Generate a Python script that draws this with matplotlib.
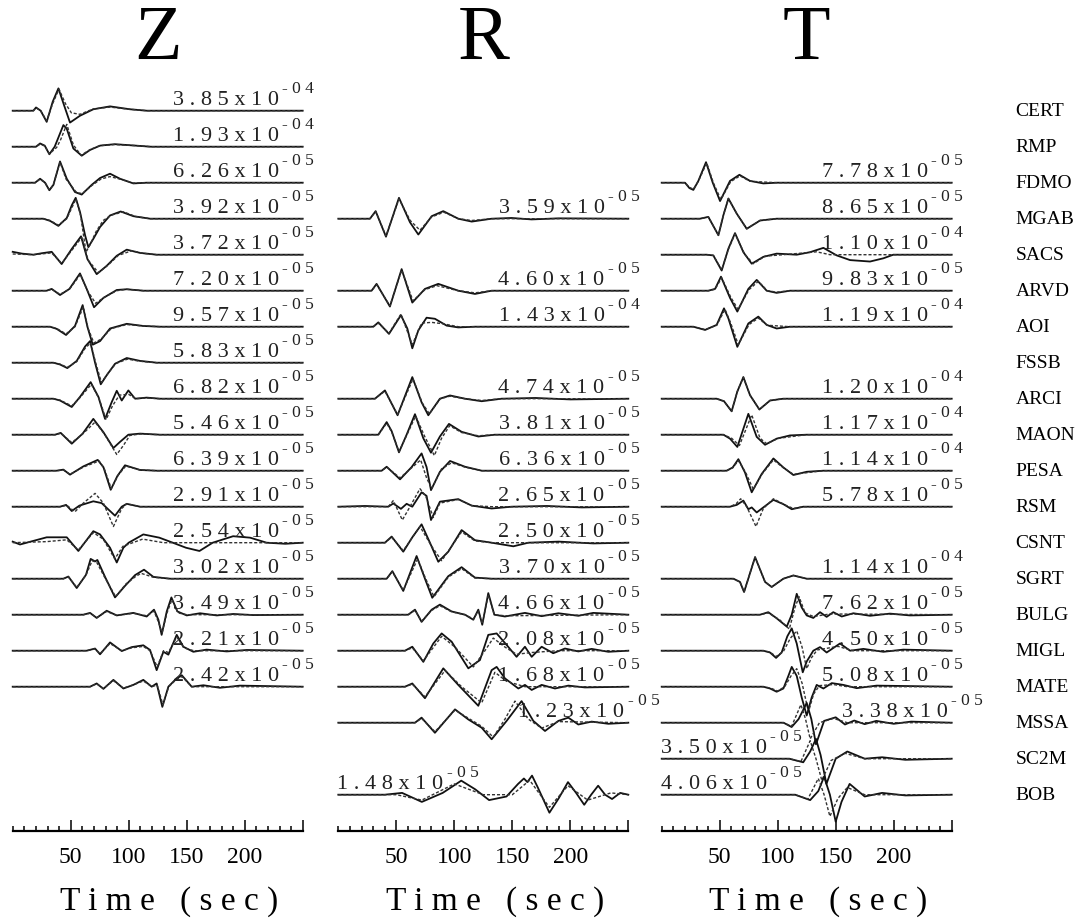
import matplotlib
matplotlib.use('Agg')
import matplotlib.pyplot as plt
from matplotlib.ticker import FixedLocator, MultipleLocator

plt.rcParams['font.family'] = ['Liberation Serif', 'DejaVu Serif']

# station order (one row per station, top to bottom)
stations = ['CERT', 'RMP', 'FDMO', 'MGAB', 'SACS', 'ARVD', 'AOI', 'FSSB', 'ARCI', 'MAON',
            'PESA', 'RSM', 'CSNT', 'SGRT', 'BULG', 'MIGL', 'MATE', 'MSSA', 'SC2M', 'BOB']

# peak amplitudes written next to each trace
z_sta = stations[:17]
z_mant = ['3.85', '1.93', '6.26', '3.92', '3.72', '7.20', '9.57', '5.83', '6.82',
          '5.46', '6.39', '2.91', '2.54', '3.02', '3.49', '2.21', '2.42']
z_expo = ['-04', '-04'] + ['-05'] * 15

r_sta = ['MGAB', 'ARVD', 'AOI', 'ARCI', 'MAON', 'PESA', 'RSM', 'CSNT', 'SGRT',
         'BULG', 'MIGL', 'MATE', 'MSSA', 'BOB']
r_mant = ['3.59', '4.60', '1.43', '4.74', '3.81', '6.36', '2.65', '2.50', '3.70',
          '4.66', '2.08', '1.68', '1.23', '1.48']
r_expo = ['-05', '-05', '-04'] + ['-05'] * 11

t_sta = ['FDMO', 'MGAB', 'SACS', 'ARVD', 'AOI', 'ARCI', 'MAON', 'PESA', 'RSM',
         'SGRT', 'BULG', 'MIGL', 'MATE', 'MSSA', 'SC2M', 'BOB']
t_mant = ['7.78', '8.65', '1.10', '9.83', '1.19', '1.20', '1.17', '1.14', '5.78',
          '1.14', '7.62', '4.50', '5.08', '3.38', '3.50', '4.06']
t_expo = ['-05', '-05', '-04', '-05', '-04', '-04', '-04', '-04', '-05',
          '-04', '-05', '-05', '-05', '-05', '-05', '-05']

# waveforms: (time s, normalised amplitude) ; obs = solid, syn = dashed
z_obs = {
    'CERT': [(0,0),(17.8,0),(20.1,0.09),(24.1,0.0),(29.3,-0.31),(34.5,0.25),(39.4,0.62),(44.3,0.15),(49.4,-0.33),(58,-0.14),(69.5,0.04),(83.9,0.12),(101,0.04),(115.5,0),(250,0)],
    'RMP': [(0,0),(20.1,0),(23.6,0.09),(27.6,0.03),(31.6,-0.21),(36.2,0.0),(43.7,0.6),(46.6,0.5),(52.3,-0.05),(59.5,-0.25),(66.7,-0.09),(75.3,0.03),(88,0.07),(106,0.03),(119,0),(250,0)],
    'FDMO': [(0,0),(19.3,0),(23.6,0.11),(27.9,0.0),(31.6,-0.21),(35.1,-0.06),(40.8,0.59),(46.6,0.11),(53.7,-0.26),(59.5,-0.33),(68.1,-0.06),(75.3,0.13),(83.9,0.25),(92.5,0.11),(104,-0.02),(115.5,0),(250,0)],
    'MGAB': [(0,0),(26.4,0),(32.2,-0.06),(39.4,-0.2),(46.6,0.02),(50.9,0.37),(54.3,0.58),(58,0.19),(62.4,-0.46),(65.2,-0.79),(69.5,-0.56),(75.3,-0.23),(83.9,0.09),(93.1,0.2),(104,0.07),(118.4,0),(250,0)],
    'SACS': [(0,0.08),(8,0.03),(17.8,0),(25,0.04),(33.6,0.08),(42.2,-0.26),(50.9,0.16),(58.9,0.51),(64.4,-0.12),(72.4,-0.54),(81,-0.31),(89.7,-0.03),(98.3,0.14),(109.8,0.05),(124.1,0),(250,0)],
    'ARVD': [(0,0),(29.3,0),(33.6,0.05),(40.8,-0.12),(48.9,0.05),(58,0.48),(63.8,0.05),(70.1,-0.46),(78.2,-0.2),(89.7,0.02),(98.3,0.04),(112.6,0),(250,0)],
    'AOI': [(0,0),(32.2,0),(37.9,-0.06),(46,-0.23),(53.7,0.02),(60.3,0.6),(64.4,0.0),(69,-0.5),(75.3,-0.4),(83.9,-0.05),(98.3,0.08),(112.6,0.02),(127,0),(250,0)],
    'FSSB': [(0,0),(35.1,0),(40.8,-0.05),(47.1,-0.15),(55.2,0.05),(62.4,0.45),(66.7,0.6),(71,0.0),(75.9,-0.6),(81,-0.35),(88.2,-0.03),(98.3,0.13),(109.8,0.05),(124.1,0),(250,0)],
    'ARCI': [(0,0),(35.1,0),(40.8,-0.05),(50.9,-0.23),(58,0.05),(67.2,0.46),(73.9,0.05),(79.6,-0.56),(85.3,-0.1),(89.7,0.22),(94,-0.05),(99.7,0.23),(105.5,0.0),(115.5,0.03),(127,0),(250,0)],
    'MAON': [(0,0),(36.5,0),(41.4,0.05),(50.9,-0.25),(60.3,0.03),(69.5,0.44),(78.2,0.07),(86.8,-0.37),(92.5,-0.2),(99.7,0.0),(109.8,0.03),(127,0),(250,0)],
    'PESA': [(0,0),(37.9,0),(43.7,0.03),(49.4,-0.11),(60.9,0.12),(73.3,0.3),(78.2,0.1),(84.5,-0.53),(90.2,-0.15),(96.8,0.15),(109.8,0.02),(124.1,0),(250,0)],
    'RSM': [(0,0),(40.8,0),(46,0.05),(50.9,-0.12),(57.5,0.03),(69.5,0.15),(76.7,0.1),(81.6,-0.05),(88.2,-0.25),(94,0.0),(98.3,0.08),(109.8,0),(250,0)],
    'CSNT': [(0,0.03),(6.3,-0.05),(17.8,0.05),(29.3,0.15),(46.6,0.15),(56.6,-0.23),(69.5,0.32),(75.3,0.23),(83.9,-0.14),(89.7,-0.55),(95.4,-0.14),(100,0.0),(112.6,0.23),(126.4,0.14),(138,0.0),(149.4,-0.14),(161,-0.23),(172.4,0.0),(190,0.18),(204.6,0.14),(218.9,0.0),(235,-0.03),(250,0)],
    'SGRT': [(0,0),(43.7,0),(48,0.06),(55.2,-0.26),(63.2,0.11),(67.2,0.55),(71,0.48),(73,0.52),(79.6,0.05),(88.2,-0.52),(96.8,-0.2),(105.5,0.1),(113.2,0.25),(121.3,0.05),(135.6,0),(250,0)],
    'BULG': [(0,0),(60.9,0),(66.7,0.05),(72.4,-0.09),(81,0.11),(89.7,-0.02),(104,0.05),(115.5,-0.05),(121.8,0.14),(125.6,-0.14),(128.4,-0.56),(132.8,0.09),(136.8,0.48),(142,0.09),(150,-0.02),(161.5,0.04),(175.9,-0.02),(190.2,0.02),(207.5,-0.01),(250,0)],
    'MIGL': [(0,0),(63.8,0),(71,0.06),(75.3,-0.1),(83.9,0.23),(94,-0.01),(102.6,0.1),(112.6,0.15),(118.4,0.02),(124.1,-0.54),(129.9,-0.03),(134.2,-0.11),(141.4,0.44),(147.1,0.11),(155.7,-0.03),(167.2,0.03),(184.5,-0.02),(201.7,0.02),(250,0)],
    'MATE': [(0,0),(66.7,0),(72.4,0.09),(78.2,-0.06),(86.8,0.19),(95.4,-0.05),(104,0.05),(112.6,0.19),(119.8,0.0),(124.1,0.09),(129,-0.56),(134.2,0.0),(140,0.19),(145.7,0.32),(154.3,0.0),(164.4,0.04),(178.7,-0.03),(196,0.03),(250,0)],
}
z_syn = {
    'CERT': [(0,0),(17.8,0),(20.1,0.08),(24.1,0.0),(29.3,-0.28),(34.5,0.2),(39.9,0.6),(45.4,0.2),(50.6,-0.06),(58,-0.1),(69.5,0.05),(83.9,0.1),(101,0.04),(115.5,0),(250,0)],
    'RMP': [(0,0),(20.1,0),(23.6,0.07),(27.6,0.02),(31.6,-0.2),(37.9,-0.02),(41.4,0.2),(46.6,0.62),(52.3,0.05),(58.9,-0.24),(66.7,-0.08),(75.3,0.03),(88,0.06),(106,0.03),(119,0),(250,0)],
    'FDMO': [(0,0),(19.3,0),(23.6,0.1),(27.9,0.0),(31.6,-0.2),(35.1,-0.05),(40.8,0.57),(46,0.1),(55.2,-0.28),(60,-0.3),(68.1,-0.08),(76,0.1),(83.9,0.17),(92.5,0.1),(104,-0.01),(115.5,0),(250,0)],
    'MGAB': [(0,0),(26.4,0),(32.2,-0.05),(39.4,-0.18),(46.6,0.0),(50.9,0.3),(54.6,0.55),(58.5,0.1),(63.2,-0.93),(67,-0.7),(72,-0.35),(78,-0.05),(85,0.1),(95.5,0.19),(106,0.06),(118.4,0),(250,0)],
    'SACS': [(0,0.02),(17.8,0),(33.6,0.05),(42.2,-0.24),(50.9,0.12),(59.5,0.48),(65,-0.15),(73.9,-0.5),(82.5,-0.28),(91,-0.02),(102.6,0.11),(112,0.04),(124.1,0),(250,0)],
    'ARVD': [(0,0),(29.3,0),(33.6,0.04),(40.8,-0.1),(48.9,0.04),(58.3,0.45),(64.4,0.0),(71.5,-0.35),(79,-0.18),(89.7,0.0),(98.3,0.04),(112.6,0),(250,0)],
    'AOI': [(0,0),(32.2,0),(37.9,-0.05),(46,-0.2),(53.7,0.0),(60.9,0.55),(65,-0.05),(70,-0.45),(76,-0.35),(85,-0.05),(98.3,0.06),(112.6,0.02),(127,0),(250,0)],
    'FSSB': [(0,0),(35.1,0),(40.8,-0.04),(47.1,-0.13),(55.2,0.03),(62.4,0.4),(67.2,0.55),(71.5,0.0),(76.5,-0.55),(82,-0.3),(89,-0.02),(99,0.1),(109.8,0.04),(124.1,0),(250,0)],
    'ARCI': [(0,0),(35.1,0),(40.8,-0.04),(50.9,-0.2),(58,0.03),(67.8,0.4),(74.5,0.0),(80.5,-0.58),(86,-0.2),(92,0.1),(100,0.12),(106,0.0),(115.5,0.02),(127,0),(250,0)],
    'MAON': [(0,0),(36.5,0),(41.4,0.04),(50.9,-0.22),(60.3,0.02),(71,0.35),(79,0.02),(89.7,-0.55),(95.4,-0.3),(101,-0.02),(109.8,0.02),(127,0),(250,0)],
    'PESA': [(0,0),(37.9,0),(43.7,0.02),(49.4,-0.1),(60.9,0.1),(74.5,0.27),(79,0.05),(85,-0.5),(91,-0.12),(97.5,0.13),(109.8,0.02),(124.1,0),(250,0)],
    'RSM': [(0,0),(40.8,0),(46.6,0.04),(53.7,-0.14),(60.9,0.1),(71,0.37),(78.2,0.1),(86.8,-0.55),(94,-0.05),(98.3,0.08),(109.8,0),(250,0)],
    'CSNT': [(0,0),(29.3,0.03),(46.6,0.08),(56.6,-0.2),(69.5,0.28),(78,0.1),(88,-0.45),(95,-0.1),(112,0.1),(130,0.0),(250,0)],
    'SGRT': [(0,0),(43.7,0),(48,0.05),(55.2,-0.24),(63.2,0.1),(68.5,0.5),(72.5,0.45),(79.6,0.02),(88.8,-0.5),(97.5,-0.15),(105.5,0.05),(110.6,0.15),(121.3,0.04),(135.6,0),(250,0)],
    'BULG': [(0,0),(60.9,0),(66.7,0.04),(72.4,-0.08),(81,0.09),(89.7,-0.02),(104,0.04),(115.5,-0.03),(121.8,0.1),(125.6,-0.2),(128.8,-0.5),(133,0.05),(137.3,0.42),(142.5,0.05),(150,0.0),(250,0)],
    'MIGL': [(0,0),(63.8,0),(71,0.05),(75.3,-0.08),(83.9,0.2),(94,0.0),(102.6,0.08),(112.6,0.12),(118.4,0.0),(124.6,-0.45),(130,0.0),(134.2,-0.05),(141.4,0.38),(147.5,0.08),(156,0.0),(250,0)],
    'MATE': [(0,0),(66.7,0),(72.4,0.08),(78.2,-0.05),(86.8,0.17),(95.4,-0.04),(104,0.05),(112.6,0.16),(120,0.0),(124.5,0.05),(129.5,-0.5),(134.5,0.0),(141,0.2),(146,0.28),(154.3,0.0),(250,0)],
}

r_obs = {
    'MGAB': [(0,0),(27.3,0),(32.2,0.21),(41.1,-0.5),(52.3,0.58),(61.8,-0.1),(69,-0.44),(80.5,0.07),(90.5,0.21),(103.4,0.0),(115,-0.08),(132.2,0.0),(149.4,0.02),(166.7,-0.02),(189.7,0.01),(250,0)],
    'ARVD': [(0,0),(28.7,0),(33,0.19),(44.5,-0.44),(54.6,0.6),(63.8,-0.33),(74.7,0.05),(86.2,0.19),(103.4,0.0),(117.8,-0.09),(132.2,0),(250,0)],
    'AOI': [(0,0),(30.2,0),(34.5,0.12),(43.7,-0.2),(54,0.32),(59.5,-0.05),(63.8,-0.6),(69,-0.1),(76.1,0.25),(83.3,0.22),(93.4,0.03),(103.4,-0.02),(117.8,0),(250,0)],
    'ARCI': [(0,0),(31.6,0),(40.2,0.23),(51.1,-0.46),(63.8,0.6),(71.8,-0.1),(77.6,-0.46),(87.6,0.0),(96.3,0.09),(109.2,0.0),(123.6,-0.07),(140.8,0),(170,0.02),(200,-0.02),(250,0)],
    'MAON': [(0,0),(34.5,0),(41.7,0.35),(46,0.1),(52.3,-0.49),(58.9,0.0),(66.1,0.57),(73.3,-0.1),(79.9,-0.5),(87.6,-0.05),(95.4,0.3),(106.3,0.08),(120.7,-0.05),(135,0),(250,0)],
    'PESA': [(0,0),(37.4,0),(41.7,0.11),(53.2,-0.24),(63.2,0.1),(71.8,0.48),(76.1,0.1),(79.9,-0.54),(87.6,-0.03),(96.3,0.27),(109.2,0.11),(123.6,0),(250,0)],
    'RSM': [(0,0),(23,0.02),(43.1,0),(47.4,0.09),(54,-0.06),(58.9,0.08),(63.8,0.0),(71.8,0.4),(76.1,0.3),(79.9,-0.37),(87.6,0.14),(103.4,0.21),(115,0.03),(132.2,-0.05),(149.4,0),(180,0.02),(210,-0.02),(250,0)],
    'CSNT': [(0,0),(40.2,0),(46,0.17),(56,-0.25),(63.8,0.15),(71.8,0.51),(79,0.0),(86.2,-0.53),(94.8,-0.25),(106.3,0.35),(117.8,0.07),(132.2,0.0),(150.9,-0.1),(163.8,0.0),(190,0.03),(220,-0.02),(250,0)],
    'SGRT': [(0,0),(41.7,0),(46.6,0.21),(56,-0.34),(67.5,0.63),(74.7,0.0),(81,-0.53),(94.8,0.07),(106.3,0.32),(117.8,0.03),(132.2,0),(250,0)],
    'BULG': [(0,0),(60.3,0),(66.1,0.14),(71.8,-0.2),(80.5,0.14),(87.6,0.28),(97.7,0.09),(109.2,0.0),(116.4,-0.14),(120.7,0.14),(124.1,-0.28),(129.3,0.6),(134.5,0.0),(143.7,-0.05),(160.9,0.05),(175.3,-0.04),(189.7,0.04),(206.9,-0.03),(219.8,0.05),(250,0)],
    'MIGL': [(0,0),(57.5,0),(63.8,0.11),(73.3,-0.31),(81.9,0.2),(89.1,0.48),(97.7,0.25),(112.1,-0.49),(122.1,-0.26),(129.3,0.44),(136.5,0.48),(145.1,0.16),(153.7,-0.17),(160.9,0.11),(166.7,-0.17),(175.3,0.11),(185.3,-0.07),(195.4,0.06),(206.9,-0.02),(218.4,0.05),(232.8,-0.03),(250,0)],
    'MATE': [(0,0),(57.5,0),(63.8,0.09),(74.7,-0.32),(90.5,0.51),(103.4,0.05),(120.7,-0.53),(132.2,0.46),(136.5,0.55),(143.7,0.23),(155.2,-0.05),(160.9,0.05),(166.7,-0.09),(175.3,0.05),(186.8,-0.05),(198.3,0.03),(212.6,-0.02),(250,0)],
    'MSSA': [(0,0),(66.1,0),(71.8,0.14),(83.3,-0.28),(100.6,0.37),(112.1,0.09),(123.6,-0.14),(132.2,-0.46),(145.1,0.05),(158,0.6),(168.1,0.05),(178.2,-0.23),(189.7,0.05),(198.3,0.14),(206.9,-0.05),(218.4,0.03),(232.8,-0.03),(250,0)],
    'BOB': [(0,0),(40,0),(55,0.05),(72,-0.2),(90,0.05),(106,0.39),(118,0.15),(130,-0.15),(145,-0.05),(155,0.3),(160,0.45),(163,0.35),(167,0.53),(172,0.2),(182,-0.5),(190,-0.1),(198,0.35),(205,0.05),(212,-0.28),(218,0.0),(224,0.25),(230,0.0),(236,-0.12),(243,0.05),(250,0)],
}
r_syn = {
    'MGAB': [(0,0),(27.3,0),(32.2,0.2),(41.1,-0.48),(52.3,0.55),(62,-0.05),(70.4,-0.32),(80.5,0.05),(91,0.18),(103.4,0.0),(115,-0.05),(132.2,0),(250,0)],
    'ARVD': [(0,0),(28.7,0),(33,0.17),(44.5,-0.42),(54.6,0.57),(64.4,-0.28),(74.7,0.03),(85,0.14),(103.4,0.0),(117.8,-0.06),(132.2,0),(250,0)],
    'AOI': [(0,0),(30.2,0),(34.5,0.1),(43.7,-0.18),(54,0.35),(63.8,-0.5),(71.8,0.1),(80.5,0.12),(90.5,0.08),(103.4,0),(117.8,0),(250,0)],
    'ARCI': [(0,0),(31.6,0),(40.2,0.21),(51.1,-0.44),(64.4,0.55),(72.4,-0.12),(78.5,-0.42),(88,0.0),(96.3,0.07),(109.2,0),(123.6,-0.05),(140.8,0),(250,0)],
    'MAON': [(0,0),(34.5,0),(41.7,0.32),(46,0.08),(52.3,-0.47),(58.9,-0.02),(66.7,0.52),(74.5,-0.05),(82.8,-0.58),(89,-0.1),(96,0.25),(106.3,0.06),(120.7,-0.03),(135,0),(250,0)],
    'PESA': [(0,0),(37.4,0),(41.7,0.1),(53.2,-0.2),(63.2,0.08),(71,0.3),(76.1,-0.2),(80.5,-0.5),(89,0.05),(97.7,0.22),(109.2,0.1),(123.6,0),(250,0)],
    'RSM': [(0,0),(43.1,0),(47.4,0.17),(55.2,-0.37),(61.8,0.0),(70.4,0.5),(75.3,0.3),(81.9,-0.3),(87.6,0.1),(103.4,0.2),(115,0.03),(132.2,0),(250,0)],
    'CSNT': [(0,0),(40.2,0),(46,0.15),(56,-0.22),(70.4,0.45),(80.5,-0.1),(89.1,-0.5),(97.7,-0.1),(106.3,0.3),(117.8,0.05),(132.2,0),(250,0)],
    'SGRT': [(0,0),(41.7,0),(46.6,0.19),(56,-0.32),(68.4,0.55),(75.3,0.0),(82.5,-0.5),(95,0.05),(106.3,0.28),(117.8,0.02),(132.2,0),(250,0)],
    'BULG': [(0,0),(60.3,0),(66.1,0.12),(71.8,-0.18),(80.5,0.12),(87.6,0.25),(97.7,0.08),(109.2,0.0),(116.4,-0.12),(120.7,0.1),(124.1,-0.25),(129.3,0.55),(134.5,0.0),(143.7,-0.03),(250,0)],
    'MIGL': [(0,0),(57.5,0),(63.8,0.08),(73.3,-0.28),(89.1,0.4),(100.6,0.1),(116.4,-0.45),(126.4,0.0),(133.6,0.35),(143.7,0.1),(153.7,-0.1),(166.7,-0.05),(189.7,0.0),(250,0)],
    'MATE': [(0,0),(57.5,0),(63.8,0.07),(74.7,-0.28),(92,0.45),(106.3,0.0),(123.6,-0.45),(135,0.4),(145.1,0.15),(160.9,0.0),(250,0)],
    'MSSA': [(0,0),(66.1,0),(71.8,0.12),(83.3,-0.25),(100.6,0.35),(123.6,-0.1),(133.6,-0.4),(143.7,0.1),(152.3,0.6),(163.8,0.1),(175.3,-0.15),(189.7,0.03),(250,0)],
    'BOB': [(0,0),(50,0),(72,-0.15),(100,0.3),(125,0.0),(150,0.0),(165,0.4),(182,-0.35),(198,0.25),(215,-0.15),(235,0.05),(250,0)],
}

t_obs = {
    'FDMO': [(0,0),(20.1,0),(23.9,-0.15),(27.3,-0.2),(31.6,0.05),(38.2,0.57),(44,0.0),(50.3,-0.51),(58.9,0.05),(67,0.22),(76.1,0.05),(87.6,-0.02),(99.1,0),(250,0)],
    'MGAB': [(0,0),(33,0),(40.2,0.05),(48.9,-0.46),(53.2,0.1),(57.5,0.56),(64.7,0.14),(73.3,-0.28),(84.8,-0.05),(99.1,0),(250,0)],
    'SACS': [(0,0),(38.8,0),(44.5,-0.02),(51.7,-0.44),(57.5,0.17),(63.2,0.6),(70.4,0.07),(77.6,-0.25),(87.6,-0.06),(99.1,0.03),(116.4,0),(127.9,0.07),(139.4,0.19),(150.9,-0.02),(162.4,-0.15),(179.6,-0.19),(191.1,-0.1),(199.7,0),(250,0)],
    'ARVD': [(0,0),(40.2,0),(46,0.05),(51.1,0.39),(58.9,-0.2),(65.2,-0.58),(74.7,0.05),(81.9,0.3),(90.5,0.0),(99.1,-0.06),(110.6,0),(250,0)],
    'AOI': [(0,0),(27.3,0),(37.4,-0.09),(47.4,0.05),(53.7,0.51),(57.5,0.23),(65.2,-0.56),(74.7,0.09),(83.3,0.28),(90.5,0.05),(99.1,-0.05),(110.6,0),(250,0)],
    'ARCI': [(0,0),(47.4,0),(53.7,-0.07),(60.3,-0.35),(65.2,0.2),(70.4,0.6),(76.1,0.1),(84.2,-0.3),(93.4,-0.05),(104.9,0),(250,0)],
    'MAON': [(0,0),(53.2,0),(58.9,-0.11),(65.2,-0.34),(74.7,0.58),(81.9,-0.06),(89.1,-0.28),(99.1,-0.11),(110.6,-0.02),(125,0),(250,0)],
    'PESA': [(0,0),(56,0),(61.2,0.09),(66.1,0.32),(71.8,-0.05),(77.6,-0.6),(86.2,-0.09),(96.3,0.34),(104.9,0.09),(113.5,-0.12),(125,-0.03),(139.4,0),(250,0)],
    'RSM': [(0,0),(58.9,0),(64.7,0.05),(70.4,0.17),(74.7,-0.07),(77.6,-0.02),(81.9,-0.16),(87.6,-0.02),(96.3,0.19),(104.9,0.07),(112.1,-0.07),(122.1,0),(250,0)],
    'SGRT': [(0,0),(61.8,0),(67.5,-0.09),(71,-0.37),(80.5,0.6),(89.1,-0.09),(94.8,-0.23),(104.9,0.0),(113.5,0.09),(125,0),(250,0)],
    'BULG': [(0,0),(84.8,0),(91.9,0.07),(99.1,-0.1),(107.8,-0.33),(112.1,0.0),(116.4,0.58),(120.7,0.2),(125,-0.02),(130.7,-0.09),(136.5,0.07),(142.2,-0.06),(147.9,0.07),(155.2,-0.05),(165.2,0.04),(179.6,-0.03),(196.8,0.03),(214,-0.02),(250,0)],
    'MIGL': [(0,0),(87.6,0),(93.4,-0.05),(98.6,-0.2),(103.4,-0.05),(108.3,0.4),(112.1,0.62),(116.4,0.2),(121.6,-0.6),(125,-0.3),(130.7,0.0),(136.5,0.1),(142.2,-0.05),(153.7,0.2),(162.4,0.0),(173.9,0.05),(191.1,-0.03),(208.3,0.03),(250,0)],
    'MATE': [(0,0),(87.6,0),(93.4,-0.05),(99.1,-0.14),(104.9,-0.05),(109.2,0.3),(112.1,0.55),(116.4,0.3),(120.7,-0.3),(125,-0.8),(129.3,-0.3),(133.6,0.05),(139.4,-0.05),(146.6,0.1),(156.6,0.05),(168.1,-0.04),(185.3,0.03),(250,0)],
    'MSSA': [(0,0),(105,0),(112,-0.12),(118,0.1),(125,0.55),(129,0.1),(133,-0.6),(140,0.05),(150,0.15),(158,-0.05),(166,0.06),(175,-0.04),(185,0.05),(200,-0.03),(215,0.03),(250,0)],
    'SC2M': [(0,0),(110,0),(122,-0.1),(128,0.2),(133,0.55),(137,0.1),(142,-0.7),(150,0.0),(160,0.2),(175,0.0),(190,0.04),(210,-0.03),(250,0)],
    'BOB': [(0,0),(115,0),(128,-0.15),(135,0.1),(140,0.5),(145,0.0),(150,-0.75),(155,-0.2),(162,0.3),(175,-0.05),(190,0.05),(210,-0.02),(250,0)],
}
t_syn = {
    'FDMO': [(0,0),(20.1,0),(23.9,-0.13),(27.3,-0.18),(31.6,0.04),(38.8,0.55),(44.5,0.0),(51,-0.47),(59.5,0.03),(67.5,0.19),(76.1,0.04),(99.1,0),(250,0)],
    'SACS': [(0,0),(38.8,0),(44.5,-0.02),(51.7,-0.42),(57.5,0.15),(63.2,0.58),(71.8,0.0),(79,-0.25),(89.1,-0.04),(104.9,0),(133.6,0.08),(145.1,0.0),(250,0)],
    'ARVD': [(0,0),(40.2,0),(46,0.04),(51.7,0.36),(59.5,-0.18),(65.8,-0.52),(75.3,0.03),(83.3,0.26),(91,0.0),(99.1,-0.04),(110.6,0),(250,0)],
    'AOI': [(0,0),(27.3,0),(37.4,-0.08),(47.4,0.04),(54.6,0.48),(59.5,0.1),(66,-0.5),(75.3,0.06),(83.3,0.24),(91,0.04),(110.6,0),(250,0)],
    'MAON': [(0,0),(53.2,0),(60.3,-0.1),(67,-0.3),(77.6,0.55),(84.8,-0.1),(90.5,-0.25),(100.6,-0.1),(125,0),(250,0)],
    'PESA': [(0,0),(56,0),(61.2,0.08),(66.1,0.28),(72.4,-0.05),(79,-0.52),(86.8,-0.08),(96.3,0.3),(104.9,0.08),(113.5,-0.1),(139.4,0),(250,0)],
    'RSM': [(0,0),(58.9,0),(64.1,0.08),(68.1,0.22),(73.3,0.0),(81.3,-0.55),(87.6,-0.05),(96.3,0.22),(106.3,0.05),(113.5,-0.05),(122.1,0),(250,0)],
    'BULG': [(0,0),(84.8,0),(91.9,0.05),(102,-0.15),(110,-0.4),(114.9,0.2),(118.4,0.5),(123.6,0.05),(130.7,-0.05),(145.1,0.02),(250,0)],
    'MIGL': [(0,0),(87.6,0),(93.4,-0.04),(98.6,-0.16),(104.9,-0.02),(111,0.35),(116.4,0.55),(121,0.1),(125,-0.5),(129,-0.2),(134,0.02),(152,0.12),(165,0.0),(250,0)],
    'MATE': [(0,0),(87.6,0),(94,-0.04),(100,-0.12),(106,0.0),(111.5,0.3),(116.4,0.5),(121,0.1),(126.5,-0.7),(131,-0.2),(136,0.03),(148,0.06),(160,0.0),(250,0)],
    'MSSA': [(0,0),(105,0),(112,-0.1),(120,0.5),(124,0.1),(128,-0.45),(136,0.0),(148,0.12),(160,0.0),(250,0)],
    'SC2M': [(0,0),(110,0),(120,-0.08),(128,0.5),(133,0.0),(138,-0.6),(146,-0.05),(158,0.15),(175,0.0),(250,0)],
    'BOB': [(0,0),(115,0),(126,-0.12),(135,0.45),(140,0.0),(145,-0.6),(152,-0.1),(160,0.2),(175,0.0),(250,0)],
}

panels = [
    ('Z', z_sta, z_mant, z_expo, z_obs, z_syn),
    ('R', r_sta, r_mant, r_expo, r_obs, r_syn),
    ('T', t_sta, t_mant, t_expo, t_obs, t_syn),
]

# a few labels sit away from the usual spot (shift in seconds)
label_shift = {('R', 'MSSA'): 17, ('T', 'MSSA'): 17,
               ('R', 'BOB'): -139, ('T', 'SC2M'): -139, ('T', 'BOB'): -139}


def spaced(s):
    return ' '.join(s)


W, H = 1079, 920
fig = plt.figure(figsize=(W / 100, H / 100), dpi=100)

lefts = [12.7, 338.3, 661.7]
width = 290.0
top_px, bot_px = 57.7, 831.7

for (name, sta, mant, expo, obs, syn), left in zip(panels, lefts):
    ax = fig.add_axes([left / W, 1 - bot_px / H, width / W, (bot_px - top_px) / H])
    ax.set_xlim(0, 250)
    ax.set_ylim(-20, 1.5)
    for sp in ['left', 'right', 'top']:
        ax.spines[sp].set_visible(False)
    ax.spines['bottom'].set_linewidth(1.6)
    ax.set_yticks([])
    ax.xaxis.set_major_locator(FixedLocator([50, 100, 150, 200, 250]))
    ax.xaxis.set_minor_locator(MultipleLocator(10))
    ax.set_xticklabels(['50', '100', '150', '200', ''])
    ax.tick_params(axis='x', which='major', direction='in', length=8, width=1.1,
                   labelsize=17, pad=11)
    ax.tick_params(axis='x', which='minor', direction='in', length=3.5, width=1.1)
    ax.patch.set_alpha(0)

    for s, m, e in zip(sta, mant, expo):
        row = stations.index(s)
        t, a = zip(*obs[s])
        ax.plot(t, [-row + v for v in a], color='#111111', lw=1.3, clip_on=False,
                solid_joinstyle='round')
        ts, as_ = zip(*syn.get(s, obs[s]))
        ax.plot(ts, [-row + v for v in as_], color='#333333', lw=1.0,
                dashes=(2.2, 1.4), clip_on=False)
        sh = label_shift.get((name, s), 0)
        ax.text(229.5 + sh, -row + 0.19, spaced(m + 'x10'), ha='right', va='baseline',
                fontsize=16, color='#222222', clip_on=False)
        ax.text(232.5 + sh, -row + 0.51, spaced(e), ha='left', va='baseline',
                fontsize=12.5, color='#222222', clip_on=False)

    ax.text(125, 1.0, name, ha='center', va='bottom', fontsize=56, clip_on=False)
    ax.text(135, -21.95, 'T i m e   ( s e c )', ha='center', va='center',
            fontsize=24, clip_on=False)

    if name == 'T':
        for i, s in enumerate(stations):
            ax.text(305, -i, s, ha='left', va='center', fontsize=14, clip_on=False)

fig.savefig('out.png', dpi=100)
